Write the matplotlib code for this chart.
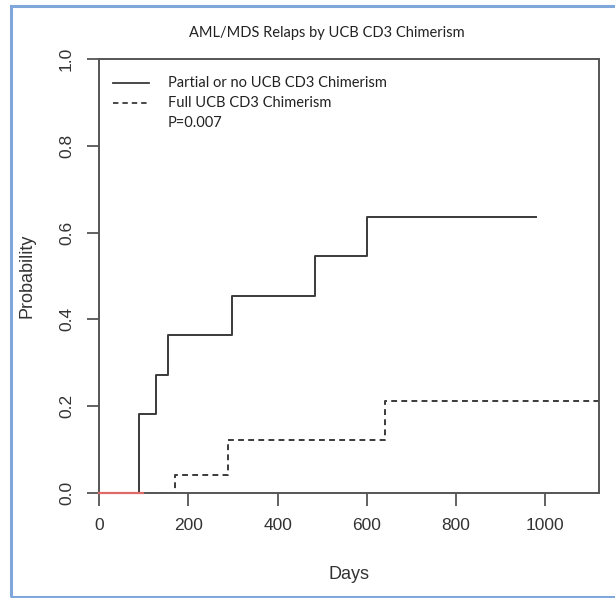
"""Cumulative relapse curves for AML/MDS by UCB CD3 chimerism."""

import matplotlib
matplotlib.use("Agg")
import matplotlib.pyplot as plt
from matplotlib.patches import Rectangle

# step data (days, probability)
partial_days = [0, 90, 128, 155, 298, 484, 600, 978]
partial_prob = [0.0, 0.182, 0.273, 0.364, 0.455, 0.545, 0.636, 0.636]

full_days = [0, 170, 289, 640, 1125]
full_prob = [0.0, 0.042, 0.122, 0.212, 0.212]

red_days = [0, 99]
red_prob = [0.0, 0.0]

x_ticks = [0, 200, 400, 600, 800, 1000]
y_ticks = [0.0, 0.2, 0.4, 0.6, 0.8, 1.0]

legend_labels = ["Partial or no UCB CD3 Chimerism", "Full UCB CD3 Chimerism"]
p_value_text = "P=0.007"

LINE_COLOR = "#3a3a3a"
AXIS_COLOR = "#555555"
TEXT_FONT = ["Lato", "DejaVu Sans"]
AXIS_FONT = ["Liberation Sans", "DejaVu Sans"]

fig = plt.figure(figsize=(6.15, 5.98), dpi=100)
fig.patch.set_facecolor("white")

# light blue frame around the picture
frame = Rectangle((11 / 615, 1 - 597 / 598), 1.0, (597 - 6) / 598,
                  transform=fig.transFigure, fill=False,
                  edgecolor="#7fa7d9", linewidth=2.2)
fig.add_artist(frame)

ax = fig.add_axes([99 / 615, 1 - 493 / 598, (599 - 99) / 615, (493 - 59) / 598])

ax.step(partial_days, partial_prob, where="post", color=LINE_COLOR, linewidth=1.4)
ax.step(full_days, full_prob, where="post", color=LINE_COLOR, linewidth=1.4,
        linestyle=(0, (3, 2.2)))
ax.plot(red_days, red_prob, color="#e06868", linewidth=1.6, zorder=5,
        clip_on=False)

ax.set_xlim(0, 1120)
ax.set_ylim(0, 1.0)
ax.set_xticks(x_ticks)
ax.set_yticks(y_ticks)
ax.set_xticklabels([str(v) for v in x_ticks], family=AXIS_FONT, fontsize=12.5,
                   color="#333333")
ax.set_yticklabels(["%.1f" % v for v in y_ticks], family=AXIS_FONT, fontsize=12.5,
                   color="#333333", rotation=90, va="center")
ax.tick_params(direction="out", length=9, width=1.3, color=AXIS_COLOR, pad=9)
for spine in ax.spines.values():
    spine.set_color(AXIS_COLOR)
    spine.set_linewidth(1.4)

ax.set_xlabel("Days", family=AXIS_FONT, fontsize=13, color="#333333", labelpad=24)
ax.set_ylabel("Probability", family=AXIS_FONT, fontsize=13, color="#333333",
              labelpad=17)

fig.text(327 / 615, 1 - 33 / 598, "AML/MDS Relaps by UCB CD3 Chimerism",
         family=TEXT_FONT, fontsize=10.5, ha="center", va="center", color="#222222")

# hand-drawn style legend like the original
legend_rows = [83, 103]
styles = ["-", (0, (3, 2.2))]
for row, label, style in zip(legend_rows, legend_labels, styles):
    y = 1 - row / 598
    fig.add_artist(plt.Line2D([113 / 615, 149 / 615], [y, y], color=LINE_COLOR,
                              linewidth=1.3, linestyle=style,
                              transform=fig.transFigure))
    fig.text(168 / 615, y, label, family=TEXT_FONT, fontsize=10.5,
             ha="left", va="center", color="#222222")
fig.text(168 / 615, 1 - 123 / 598, p_value_text, family=TEXT_FONT, fontsize=10.5,
         ha="left", va="center", color="#222222")

fig.savefig("out.png", dpi=100)
plt.close(fig)
